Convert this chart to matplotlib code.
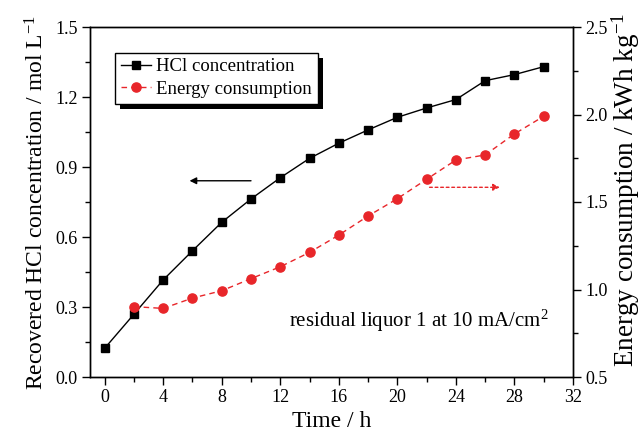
import matplotlib
matplotlib.use("Agg")
import matplotlib.pyplot as plt
from matplotlib.patches import Rectangle

plt.rcParams['font.family'] = ['Liberation Serif', 'DejaVu Serif']
plt.rcParams['mathtext.fontset'] = 'custom'
plt.rcParams['mathtext.rm'] = 'Liberation Serif'
plt.rcParams['mathtext.it'] = 'Liberation Serif:italic'

time_h = [0, 2, 4, 6, 8, 10, 12, 14, 16, 18, 20, 22, 24, 26, 28, 30]
hcl_conc = [0.123, 0.269, 0.416, 0.541, 0.663, 0.763, 0.854, 0.937, 1.002,
            1.059, 1.113, 1.153, 1.189, 1.270, 1.296, 1.330]
energy_time = [2, 4, 6, 8, 10, 12, 14, 16, 18, 20, 22, 24, 26, 28, 30]
energy = [0.902, 0.892, 0.951, 0.993, 1.062, 1.130, 1.212, 1.311, 1.420,
          1.519, 1.630, 1.740, 1.769, 1.889, 1.990]

x_ticks = [0, 4, 8, 12, 16, 20, 24, 28, 32]
left_ticks = [0.0, 0.3, 0.6, 0.9, 1.2, 1.5]
right_ticks = [0.5, 1.0, 1.5, 2.0, 2.5]

red = '#e8262a'

fig = plt.figure(figsize=(6.44, 4.37), dpi=100)
ax = fig.add_axes([90/644, 1-377/437, 483/644, 350/437])
ax2 = ax.twinx()

l1, = ax.plot(time_h, hcl_conc, '-', color='black', lw=1.0, marker='s',
              ms=5.3, mfc='black', mec='black', label='HCl concentration')
l2, = ax2.plot(energy_time, energy, '--', color=red, lw=1.0, marker='o',
               ms=6.6, mfc=red, mec=red, label='Energy consumption', dashes=(4, 3))

ax.set_xlim(-1, 32)
ax.set_ylim(0, 1.5)
ax2.set_ylim(0.5, 2.5)
ax.set_xticks(x_ticks)
ax.set_xticks([2, 6, 10, 14, 18, 22, 26, 30], minor=True)
ax.set_yticks(left_ticks)
ax.set_yticklabels([f'{v:.1f}' for v in left_ticks])
ax.set_yticks([0.15, 0.45, 0.75, 1.05, 1.35], minor=True)
ax2.set_yticks(right_ticks)
ax2.set_yticklabels([f'{v:.1f}' for v in right_ticks])
ax2.set_yticks([0.75, 1.25, 1.75, 2.25], minor=True)

for a in (ax, ax2):
    a.tick_params(which='major', direction='out', length=6, width=1, labelsize=13, pad=3)
    a.tick_params(which='minor', direction='out', length=3.5, width=1)
    for s in a.spines.values():
        s.set_linewidth(1.0)

ax.set_xlabel('Time / h', fontsize=17, labelpad=3)
ax.set_ylabel('Recovered HCl concentration / mol L$^{-1}$', fontsize=17, labelpad=5)
ax2.set_ylabel('Energy consumption / kWh kg$^{-1}$', fontsize=19.5)
ax2.yaxis.set_label_coords(1.076, 0.536)

# arrows
ax.annotate('', xy=(5.8, 0.841), xytext=(10.0, 0.841),
            arrowprops=dict(arrowstyle='-|>', color='black', lw=1.0,
                            mutation_scale=10, shrinkA=0, shrinkB=0))
ax.annotate('', xy=(27.0, 0.813), xytext=(22.2, 0.813),
            arrowprops=dict(arrowstyle='-|>', color=red, lw=1.0, ls=(0, (2, 2)),
                            mutation_scale=10, shrinkA=0, shrinkB=0))

ax.text(30.35, 0.214, 'residual liquor 1 at 10 mA/cm$^{2}$', fontsize=15,
        ha='right', va='baseline')

leg = ax2.legend(handles=[l1, l2], loc='upper left', bbox_to_anchor=(0.052, 0.927),
                 frameon=True, fancybox=False, edgecolor='black', framealpha=1,
                 fontsize=13.5, handlelength=1.6, handletextpad=0.3, borderpad=0.3,
                 labelspacing=0.3, borderaxespad=0)
leg.get_frame().set_linewidth(1.0)
leg.set_zorder(10)

fig.canvas.draw()
bb = leg.get_window_extent()
W, H = fig.bbox.width, fig.bbox.height
off = 5
shadow = Rectangle(((bb.x0 + off)/W, (bb.y0 - off)/H), bb.width/W, bb.height/H,
                   transform=fig.transFigure, facecolor='black', edgecolor='none',
                   zorder=9)
ax2.add_artist(shadow)
shadow.set_transform(fig.transFigure)

fig.savefig('out.png', dpi=100)
